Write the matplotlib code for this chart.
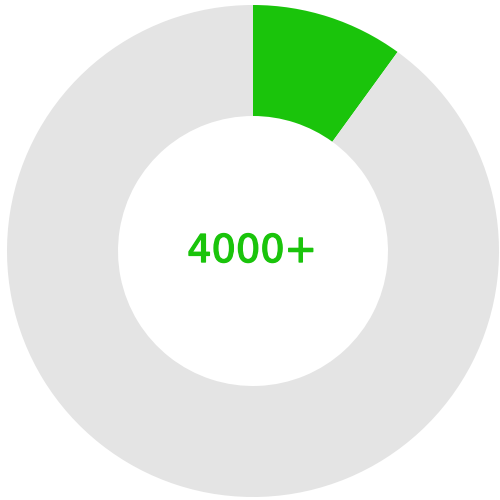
import matplotlib
matplotlib.use('Agg')
import matplotlib.pyplot as plt
import matplotlib.patheffects as pe

# Data
labels = ['done', 'rest']
values = [10, 90]
center_label = '4000+'
colors = ['#1ac40b', '#e4e4e4']

fig = plt.figure(figsize=(5, 5), dpi=100)
ax = fig.add_axes([0, 0, 1, 1])

r_px = 246.0
ax.pie(values, colors=colors, startangle=90, counterclock=False,
       radius=1.0, wedgeprops={'width': 111 / r_px, 'linewidth': 0})
ax.set_xlim(-253 / r_px, 247 / r_px)
ax.set_ylim(-249 / r_px, 251 / r_px)
ax.set_aspect('equal')
ax.axis('off')

# slightly heavier than regular weight
ax.text(-1 / r_px, -1 / r_px, center_label, ha='center', va='center',
        fontsize=27.6, color='#1ac40b', family='DejaVu Sans',
        path_effects=[pe.withStroke(linewidth=1.0, foreground='#1ac40b')])

fig.savefig('out.png', dpi=100)
